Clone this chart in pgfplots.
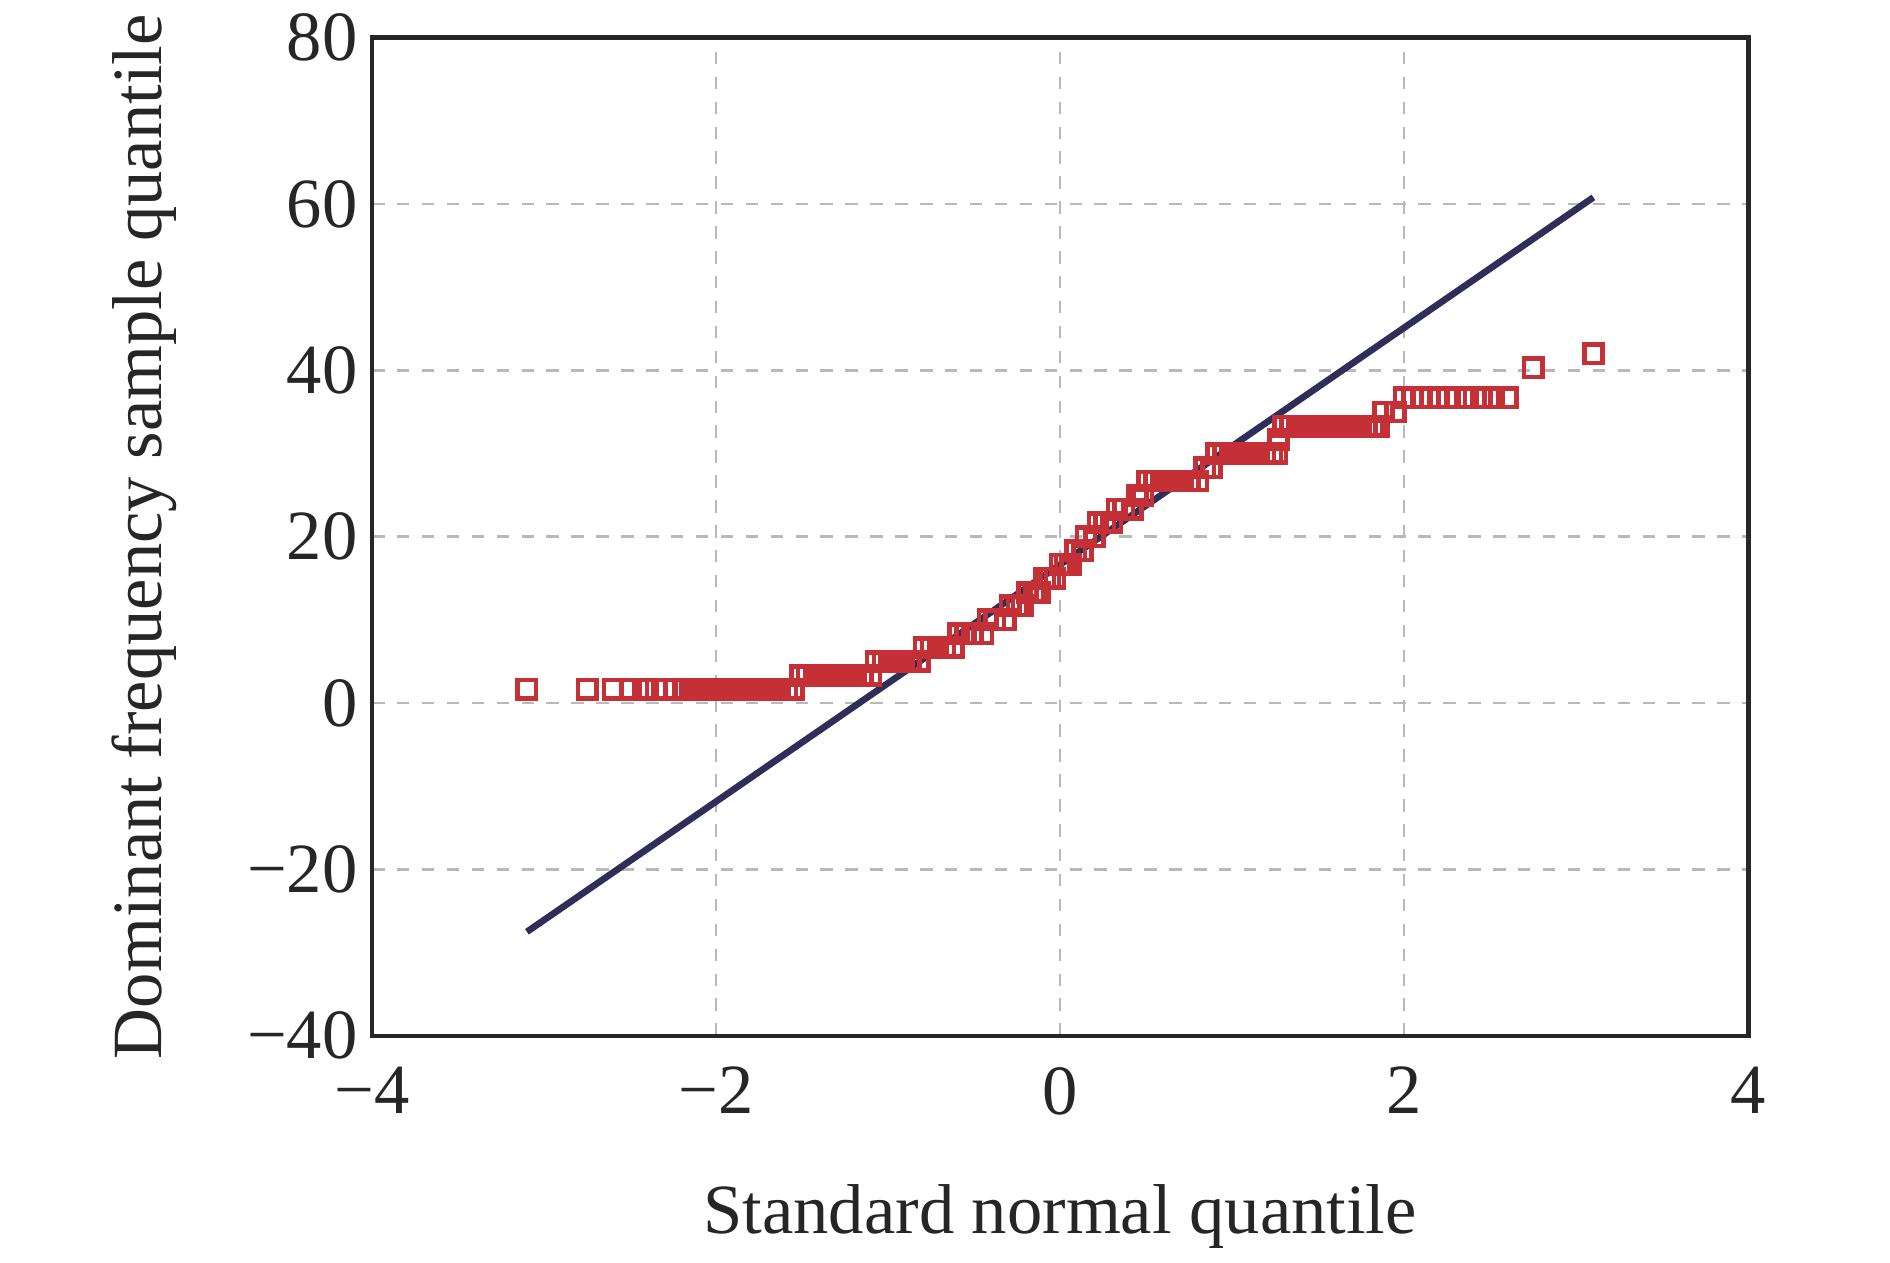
\documentclass[border=0pt]{standalone}
\usepackage{pgfplots}
\pgfplotsset{compat=1.18}
\usepackage{fontspec}
\setmainfont{Liberation Serif}
\definecolor{mred}{RGB}{196,48,54}
\definecolor{mnavy}{RGB}{46,46,88}
\begin{document}
\begin{tikzpicture}
\begin{axis}[
  name=ax,
  width=11.65cm, height=8.45cm, scale only axis,
  xmin=-4, xmax=4, ymin=-40, ymax=80,
  xtick={-4,-2,0,2,4}, ytick={-40,-20,0,20,40,60,80},
  xticklabels={−4,−2,0,2,4},
  yticklabels={−40,−20,0,20,40,60,80},
  grid=major, major grid style={dashed, gray!55, line width=0.6pt},
  axis line style={line width=1.1pt, black!85},
  tick style={draw=none},
  tick label style={font=\fontsize{17}{19}\selectfont, text=black!85},
  xticklabel style={yshift=-4pt},
  label style={font=\fontsize{17}{19}\selectfont, text=black!85},
  xlabel={Standard normal quantile},
  ylabel={Dominant frequency sample quantile},
  xlabel style={yshift=-10pt},
  ylabel style={yshift=10pt},
]
\addplot[mnavy, line width=1.6pt] coordinates {(-3.1,-27.5) (3.1,60.8)};
\addplot[only marks, mark=square, mark size=2.2pt, mark options={draw=mred, line width=1.1pt}] coordinates {
(-3.1,1.67) (-2.75,1.67) (-2.6,1.67) (-2.5,1.67) (-2.42,1.67) (-2.35,1.67) (-2.29,1.67) (-2.24,1.67) (-2.19,1.67) (-2.15,1.67) (-2.11,1.67) (-2.07,1.67) (-2.03,1.67) (-1.99,1.67) (-1.95,1.67) (-1.91,1.67) (-1.87,1.67) (-1.83,1.67) (-1.79,1.67) (-1.75,1.67) (-1.71,1.67) (-1.67,1.67) (-1.63,1.67) (-1.59,1.67) (-1.55,1.67)
(-1.51,3.33) (-1.47,3.33) (-1.43,3.33) (-1.39,3.33) (-1.35,3.33) (-1.31,3.33) (-1.27,3.33) (-1.23,3.33) (-1.19,3.33) (-1.15,3.33) (-1.1,3.33)
(-1.07,5) (-1.03,5) (-0.99,5) (-0.95,5) (-0.91,5) (-0.87,5) (-0.82,5)
(-0.79,6.67) (-0.75,6.67) (-0.71,6.67) (-0.67,6.67) (-0.62,6.67)
(-0.59,8.33) (-0.55,8.33) (-0.51,8.33) (-0.45,8.33)
(-0.42,10) (-0.38,10) (-0.32,10)
(-0.29,11.7) (-0.25,11.7) (-0.22,11.7)
(-0.19,13.3) (-0.15,13.3) (-0.12,13.3)
(-0.09,15) (-0.06,15) (-0.03,15)
(0.0,16.7) (0.03,16.7) (0.06,16.7)
(0.09,18.3) (0.13,18.3)
(0.15,20) (0.2,20)
(0.22,21.7) (0.26,21.7) (0.3,21.7)
(0.33,23.3) (0.37,23.3) (0.42,23.3)
(0.45,25) (0.48,25)
(0.51,26.7) (0.55,26.7) (0.59,26.7) (0.63,26.7) (0.67,26.7) (0.71,26.7) (0.75,26.7) (0.8,26.7)
(0.84,28.3) (0.88,28.3)
(0.91,30) (0.95,30) (0.99,30) (1.03,30) (1.07,30) (1.11,30) (1.15,30) (1.19,30) (1.23,30) (1.26,30)
(1.27,31.7)
(1.3,33.3) (1.34,33.3) (1.38,33.3) (1.42,33.3) (1.46,33.3) (1.5,33.3) (1.54,33.3) (1.58,33.3) (1.62,33.3) (1.66,33.3) (1.7,33.3) (1.74,33.3) (1.78,33.3) (1.82,33.3) (1.85,33.3)
(1.88,35) (1.95,35)
(2.0,36.7) (2.05,36.7) (2.1,36.7) (2.15,36.7) (2.2,36.7) (2.25,36.7) (2.3,36.7) (2.37,36.7) (2.45,36.7) (2.52,36.7) (2.6,36.7)
(2.75,40.3) (3.1,42)
};
\end{axis}
\path (ax.south west) ++(-3.15cm,-1.6cm) (ax.north east) ++(1.2cm,0.3cm);
\end{tikzpicture}
\end{document}
